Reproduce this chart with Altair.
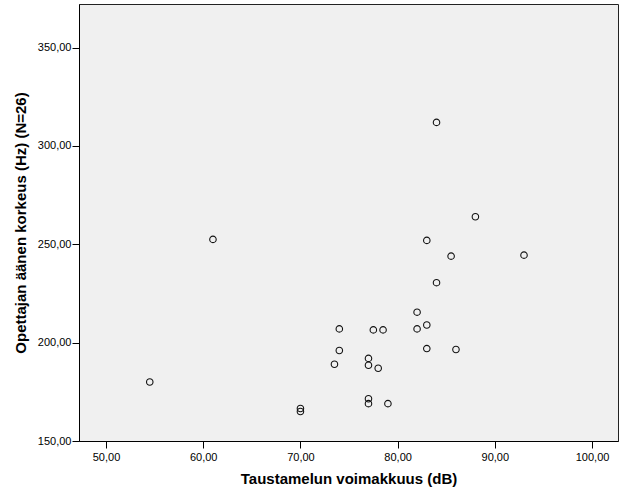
import altair as alt
import pandas as pd

# Taustamelun voimakkuus (dB)
noise_db = [54.5, 61.0, 70.0, 70.0, 74.0, 74.0, 73.5, 77.0, 77.0, 77.0, 77.0,
            78.0, 79.0, 77.5, 78.5, 82.0, 82.0, 83.0, 83.0, 86.0, 84.0,
            84.0, 88.0, 83.0, 85.5, 93.0]
# Opettajan äänen korkeus (Hz)
pitch_hz = [180.0, 252.5, 166.5, 165.0, 207.0, 196.0, 189.0, 192.0, 188.5, 171.5, 169.0,
            187.0, 169.0, 206.5, 206.5, 215.5, 207.0, 209.0, 197.0, 196.5, 230.5,
            312.0, 264.0, 252.0, 244.0, 244.5]

x_ticks = [50, 60, 70, 80, 90, 100]
y_ticks = [150, 200, 250, 300, 350]

df = pd.DataFrame({"x": noise_db, "y": pitch_hz})

label_expr = "replace(format(datum.value, '.2f'), '.', ',')"

chart = alt.Chart(df).mark_point(
    shape="circle", filled=False, size=42, stroke="#111111", strokeWidth=1.1, opacity=1
).encode(
    x=alt.X("x:Q", title="Taustamelun voimakkuus (dB)",
            scale=alt.Scale(domain=[47.22, 102.67], nice=False, zero=False),
            axis=alt.Axis(values=x_ticks, labelExpr=label_expr, grid=False,
                          tickSize=7, labelPadding=3, titlePadding=9)),
    y=alt.Y("y:Q", title="Opettajan äänen korkeus (Hz) (N=26)",
            scale=alt.Scale(domain=[150, 372.2], nice=False, zero=False),
            axis=alt.Axis(values=y_ticks, labelExpr=label_expr, grid=False,
                          tickSize=7, labelPadding=1, titlePadding=9)),
).properties(
    width=539, height=437,
    autosize=alt.AutoSizeParams(type="none"),
    padding={"left": 79, "top": 4, "right": 8, "bottom": 60},
    background="white",
).configure_view(
    fill="#F0F0F0", stroke="#222222", strokeWidth=1
).configure_axis(
    domainColor="#000000", tickColor="#000000", labelColor="#000000",
    titleColor="#000000", labelFont="Liberation Sans", titleFont="Liberation Sans",
    labelFontSize=11, titleFontSize=15, titleFontWeight="bold",
    labelFontWeight="normal", domainWidth=1, tickWidth=1
)

chart.save("out.html", embed_options={"renderer": "svg", "actions": False})
